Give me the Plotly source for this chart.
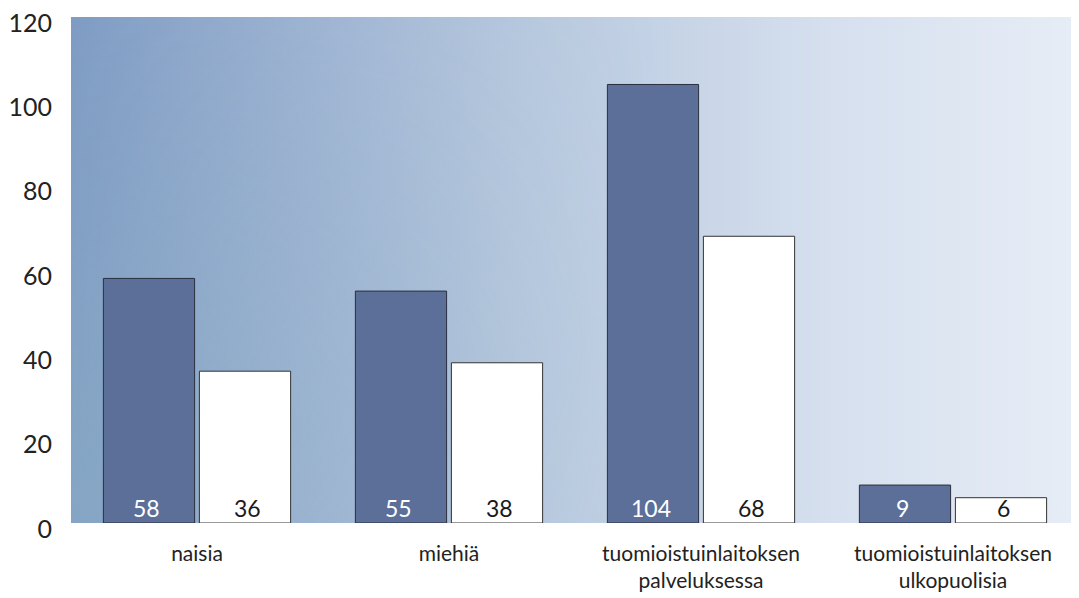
import base64
import plotly.graph_objects as go

# data
categories = ["naisia", "miehiä", "tuomioistuinlaitoksen<br>palveluksessa",
              "tuomioistuinlaitoksen<br>ulkopuolisia"]
series_a = [58, 55, 104, 9]
series_b = [36, 38, 68, 6]
y_ticks = [0, 20, 40, 60, 80, 100, 120]

COLOR_A = "#5c6f99"
COLOR_B = "#ffffff"
FONT = "Lato"

# sky-like background as an svg gradient
svg = """<svg xmlns='http://www.w3.org/2000/svg' width='1000' height='500' preserveAspectRatio='none' viewBox='0 0 1000 500'>
<defs>
<linearGradient id='h' x1='0' y1='0' x2='1' y2='0'>
<stop offset='0' stop-color='#7f9cc4'/>
<stop offset='0.22' stop-color='#9cb2d2'/>
<stop offset='0.45' stop-color='#b8c9df'/>
<stop offset='0.75' stop-color='#d5dfee'/>
<stop offset='1' stop-color='#e7edf6'/>
</linearGradient>
<linearGradient id='v' x1='0' y1='0' x2='0.6' y2='1'>
<stop offset='0' stop-color='#8fb4c4' stop-opacity='0'/>
<stop offset='0.7' stop-color='#8fb4c4' stop-opacity='0.4'/>
<stop offset='1' stop-color='#8fb4c4' stop-opacity='0.2'/>
</linearGradient>
<linearGradient id='m' x1='0' y1='0' x2='1' y2='0'>
<stop offset='0' stop-color='white' stop-opacity='1'/>
<stop offset='0.35' stop-color='white' stop-opacity='0.4'/>
<stop offset='0.6' stop-color='white' stop-opacity='0'/>
</linearGradient>
<mask id='mk'><rect width='1000' height='500' fill='url(#m)'/></mask>
</defs>
<rect width='1000' height='500' fill='url(#h)'/>
<rect width='1000' height='500' fill='url(#v)' mask='url(#mk)'/>
</svg>"""
bg_src = "data:image/svg+xml;base64," + base64.b64encode(svg.encode()).decode()

fig = go.Figure()
fig.add_trace(go.Bar(
    x=categories, y=series_a, name="a",
    marker=dict(color=COLOR_A, line=dict(color="#2a2f3f", width=1)),
))
fig.add_trace(go.Bar(
    x=categories, y=series_b, name="b",
    marker=dict(color=COLOR_B, line=dict(color="#333333", width=1)),
))

# value labels at the bar bases
for i, cat in enumerate(categories):
    fig.add_annotation(x=cat, y=0, xshift=-50.5, yanchor="bottom", yshift=-1,
                       text=str(series_a[i]), showarrow=False,
                       font=dict(family=FONT, size=23, color="white"))
    fig.add_annotation(x=cat, y=0, xshift=50.5, yanchor="bottom", yshift=-1,
                       text=str(series_b[i]), showarrow=False,
                       font=dict(family=FONT, size=23, color="#1a1a1a"))

fig.add_layout_image(
    source=bg_src, xref="paper", yref="paper", x=0, y=1,
    sizex=1, sizey=1, sizing="stretch", xanchor="left", yanchor="top",
    layer="below",
)

# page body adds an 8px margin, so the figure is sized to fit the window
fig.update_layout(
    width=1071, height=590,
    barmode="group", bargap=0.238, bargroupgap=0.05,
    showlegend=False,
    paper_bgcolor="white", plot_bgcolor="rgba(0,0,0,0)",
    margin=dict(l=63, r=0, t=9, b=75, autoexpand=False),
    font=dict(family=FONT, color="#222222"),
    xaxis=dict(showgrid=False, showline=False, zeroline=False,
               automargin=False, ticklabelstandoff=16,
               tickfont=dict(size=21, color="#222222"), ticks=""),
    yaxis=dict(range=[0, 120], tickvals=y_ticks, showgrid=False,
               showline=False, zeroline=False, ticks="", automargin=False,
               ticklabelstandoff=18, ticklabeloverflow="allow",
               ticklabelshift=6,
               tickfont=dict(size=25, color="#222222")),
)

fig.write_html("out.html")
